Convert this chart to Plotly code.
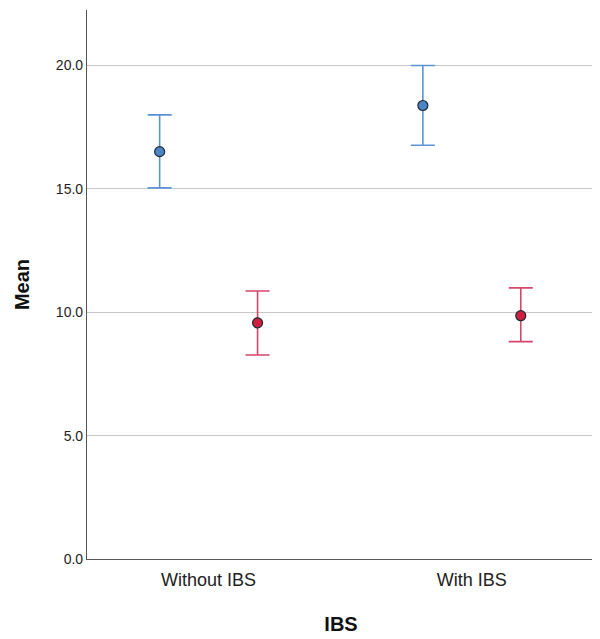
import plotly.graph_objects as go

categories = ["Without IBS", "With IBS"]
blue_mean = [16.51, 18.38]
blue_upper = [18.00, 20.00]
blue_lower = [15.04, 16.77]
red_mean = [9.57, 9.86]
red_lower = [8.27, 8.81]
red_upper = [10.86, 10.99]
y_ticks = [0, 5, 10, 15, 20]
y_tick_labels = ["0.0", "5.0", "10.0", "15.0", "20.0"]

offset = 0.186
cat_pos = list(range(len(categories)))

fig = go.Figure()

def add_series(means, lower, upper, shift, line_col, fill_col):
    xs = [p + shift for p in cat_pos]
    fig.add_trace(go.Scatter(
        x=xs, y=means, mode="markers",
        marker=dict(size=10, color=fill_col, line=dict(color="#1f2a36", width=1.2)),
        error_y=dict(type="data", symmetric=False,
                     array=[u - m for u, m in zip(upper, means)],
                     arrayminus=[m - l for m, l in zip(means, lower)],
                     color=line_col, thickness=1.6, width=12),
        showlegend=False, hoverinfo="skip"))

add_series(blue_mean, blue_lower, blue_upper, -offset, "#5b93d5", "#4d84c6")
add_series(red_mean, red_lower, red_upper, offset, "#d4456a", "#cf1f3f")

fig.update_layout(
    width=592, height=631,
    margin=dict(l=79, r=5, t=2, b=80),
    paper_bgcolor="white", plot_bgcolor="white",
    font=dict(family="Liberation Sans, Arial, sans-serif", color="#222"),
    xaxis=dict(range=[-0.462, 1.468], tickmode="array", tickvals=cat_pos,
               ticktext=categories, showgrid=False, zeroline=False,
               showline=True, linecolor="#555", linewidth=1.2,
               ticks="outside", ticklen=4, tickcolor="rgba(0,0,0,0)",
               tickfont=dict(size=18, color="#222"),
               title=dict(text="<b>IBS</b>", font=dict(size=20, color="#111"), standoff=28)),
    yaxis=dict(range=[0, 22.25], tickmode="array", tickvals=y_ticks,
               ticktext=y_tick_labels, showgrid=True, gridcolor="#c8c8c8",
               gridwidth=1.2, zeroline=False, showline=True, linecolor="#555",
               linewidth=1.2, ticks="", tickfont=dict(size=14, color="#222"),
               title=dict(text="<b>Mean</b>", font=dict(size=20, color="#111"), standoff=20)),
)

fig.write_html("out.html")
